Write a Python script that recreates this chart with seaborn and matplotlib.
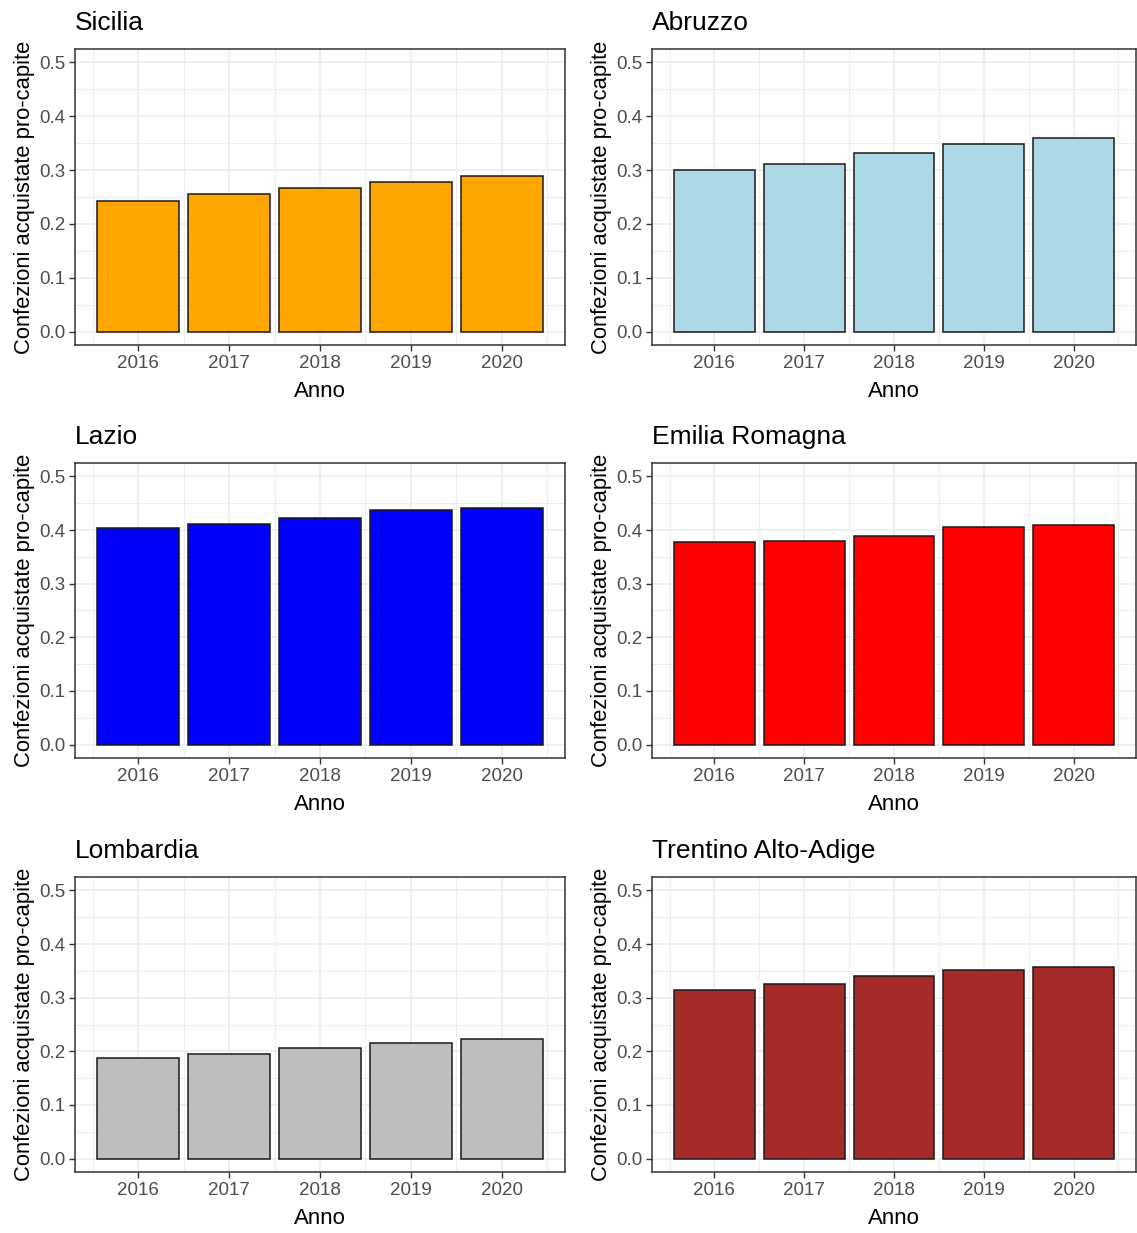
import matplotlib
matplotlib.use("Agg")
import matplotlib.pyplot as plt
import seaborn as sns
import pandas as pd
import numpy as np
from matplotlib.ticker import FixedLocator, FixedFormatter

# Confezioni acquistate pro-capite per regione, 2016-2020
anni = [2016, 2017, 2018, 2019, 2020]
regioni = ["Sicilia", "Abruzzo", "Lazio", "Emilia Romagna", "Lombardia", "Trentino Alto-Adige"]
sicilia = [0.243, 0.255, 0.266, 0.277, 0.289]
abruzzo = [0.300, 0.311, 0.331, 0.348, 0.359]
lazio = [0.403, 0.411, 0.422, 0.437, 0.442]
emilia_romagna = [0.377, 0.380, 0.388, 0.405, 0.410]
lombardia = [0.187, 0.195, 0.207, 0.215, 0.223]
trentino = [0.315, 0.326, 0.340, 0.351, 0.357]
valori = [sicilia, abruzzo, lazio, emilia_romagna, lombardia, trentino]
colori = ["#FFA500", "#ADD8E6", "#0000FF", "#FF0000", "#BEBEBE", "#A52A2A"]
y_ticks = [0.0, 0.1, 0.2, 0.3, 0.4, 0.5]
y_tick_labels = ["0.0", "0.1", "0.2", "0.3", "0.4", "0.5"]

sns.set_theme(style="white")
plt.rcParams["font.family"] = ["Liberation Sans", "DejaVu Sans"]

W, H = 1137, 1233
fig = plt.figure(figsize=(W / 100, H / 100), dpi=100)
fig.patch.set_facecolor("white")

col_x = [(75, 565), (652, 1136)]
row_y = [(49, 345), (463, 758), (877, 1172)]

for i, (nome, vals, col) in enumerate(zip(regioni, valori, colori)):
    r, c = divmod(i, 2)
    x0, x1 = col_x[c]
    y0, y1 = row_y[r]
    ax = fig.add_axes([x0 / W, 1 - y1 / H, (x1 - x0) / W, (y1 - y0) / H])
    df = pd.DataFrame({"Anno": anni, "Valore": vals})

    ax.set_axisbelow(True)
    sns.barplot(data=df, x="Anno", y="Valore", native_scale=True, color=col,
                saturation=1, width=0.9, edgecolor="#1a1a1a", linewidth=1.1, ax=ax)

    ax.set_xlim(2015.305, 2020.695)
    ax.set_ylim(-0.025, 0.525)
    ax.xaxis.set_major_locator(FixedLocator(anni))
    ax.xaxis.set_major_formatter(FixedFormatter([str(a) for a in anni]))
    ax.xaxis.set_minor_locator(FixedLocator([a - 0.5 for a in anni] + [2020.5]))
    ax.yaxis.set_major_locator(FixedLocator(y_ticks))
    ax.yaxis.set_major_formatter(FixedFormatter(y_tick_labels))
    ax.yaxis.set_minor_locator(FixedLocator([0.05, 0.15, 0.25, 0.35, 0.45]))

    ax.grid(which="major", color="#EBEBEB", linewidth=1.1)
    ax.grid(which="minor", color="#EBEBEB", linewidth=0.6)
    for s in ax.spines.values():
        s.set_color("#333333")
        s.set_linewidth(1.1)

    ax.tick_params(axis="both", which="major", direction="out", length=4, width=1,
                   color="#333333", labelcolor="#4D4D4D", labelsize=13.5, pad=3,
                   bottom=True, left=True)
    ax.tick_params(axis="both", which="minor", length=0)

    ax.set_xlabel("Anno", fontsize=16, color="black", labelpad=7)
    ax.set_ylabel("Confezioni acquistate pro-capite", fontsize=15.8, color="black", labelpad=3)

    fig.text(x0 / W, 1 - (y0 - 26) / H, nome, fontsize=19, color="black",
             ha="left", va="center")

fig.savefig("out.png", dpi=100, facecolor="white")
